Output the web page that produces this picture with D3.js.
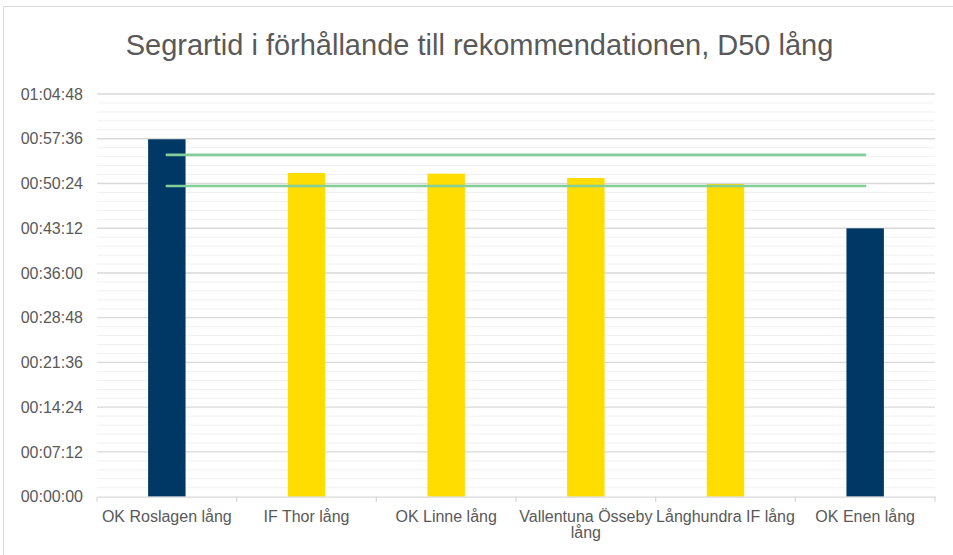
<!doctype html>
<html lang="sv">
<head>
	<meta charset="utf-8">
	<title>Segrartid D50 lång</title>
	<script src="https://d3js.org/d3.v7.min.js"></script>
	<style>
		body { margin: 0; background: #fff; }
		text { font-family: "Liberation Sans", Arial, sans-serif; fill: #595959; }
	</style>
</head>
<body>
	<script>
		// data
		var clubs = ["OK Roslagen lång", "IF Thor lång", "OK Linne lång", "Vallentuna Össeby lång", "Långhundra IF lång", "OK Enen lång"];
		var winTimes = ["00:57:31", "00:52:05", "00:51:59", "00:51:17", "00:50:19", "00:43:11"];
		var recLow = ["00:50:00", "00:50:00", "00:50:00", "00:50:00", "00:50:00", "00:50:00"];
		var recHigh = ["00:55:00", "00:55:00", "00:55:00", "00:55:00", "00:55:00", "00:55:00"];
		var tickLabels = ["00:00:00", "00:07:12", "00:14:24", "00:21:36", "00:28:48", "00:36:00", "00:43:12", "00:50:24", "00:57:36", "01:04:48"];

		var width = 953, height = 555;
		var plotLeft = 97, plotRight = 935, plotTop = 94, plotBottom = 496.7;

		function secs(s) {
			var p = s.split(":").map(Number);
			return p[0] * 3600 + p[1] * 60 + p[2];
		}

		var svg = d3.select("body").append("svg")
			.attr("width", width)
			.attr("height", height);

		// chart border (only top and left edges are inside the picture)
		svg.append("path")
			.attr("d", "M3.5," + height + "V6.5H" + width)
			.style("fill", "none")
			.style("stroke", "#d9d9d9");

		var ticks = tickLabels.map(secs);
		var yMax = d3.max(ticks);

		var y = d3.scaleLinear().domain([0, yMax]).range([plotBottom, plotTop]);
		var x = d3.scaleBand().domain(clubs).range([plotLeft, plotRight])
			.paddingInner(0.732).paddingOuter(0.366);

		// minor gridlines (5 per major step)
		var step = ticks[1] - ticks[0];
		var minor = [];
		for (var i = 0; i < ticks.length - 1; i++) {
			for (var k = 1; k < 5; k++) minor.push(ticks[i] + step * k / 5);
		}
		svg.append("g").selectAll("line")
			.data(minor).enter().append("line")
			.attr("x1", plotLeft).attr("x2", plotRight)
			.attr("y1", function(d) { return y(d); })
			.attr("y2", function(d) { return y(d); })
			.style("stroke", "#f0f0f0").style("stroke-width", 1);

		// major gridlines
		svg.append("g").selectAll("line")
			.data(ticks.slice(1)).enter().append("line")
			.attr("x1", plotLeft).attr("x2", plotRight)
			.attr("y1", function(d) { return y(d); })
			.attr("y2", function(d) { return y(d); })
			.style("stroke", "#d9d9d9").style("stroke-width", 1.3);

		// y tick labels
		svg.append("g").selectAll("text")
			.data(ticks).enter().append("text")
			.attr("x", 83)
			.attr("y", function(d) { return y(d); })
			.attr("dy", "0.35em")
			.attr("text-anchor", "end")
			.style("font-size", "16px")
			.text(function(d, i) { return tickLabels[i]; });

		// bars
		var lo = secs(recLow[0]), hi = secs(recHigh[0]);
		svg.append("g").selectAll("rect")
			.data(clubs).enter().append("rect")
			.attr("x", function(d) { return x(d); })
			.attr("width", x.bandwidth())
			.attr("y", function(d, i) { return y(secs(winTimes[i])); })
			.attr("height", function(d, i) { return plotBottom - y(secs(winTimes[i])); })
			.style("fill", function(d, i) {
				var v = secs(winTimes[i]);
				return (v < lo || v > hi) ? "#003865" : "#ffdd00";
			});

		// x axis
		var xAxis = d3.axisBottom(x).tickSize(0).tickFormat("");
		var gx = svg.append("g").attr("transform", "translate(0," + plotBottom + ")").call(xAxis);
		gx.select(".domain").style("stroke", "#d9d9d9").style("stroke-width", 1.3);
		var bounds = clubs.map(function(d) { return x(d) - x.step() * x.paddingInner() / 2; });
		bounds.push(plotRight);
		gx.selectAll(".tickmark").data(bounds).enter().append("line")
			.attr("class", "tickmark")
			.attr("x1", function(d) { return d; }).attr("x2", function(d) { return d; })
			.attr("y1", 0).attr("y2", 5)
			.style("stroke", "#d9d9d9").style("stroke-width", 1.3);

		// category labels, wrapped to the category width
		var labels = svg.append("g").selectAll("text")
			.data(clubs).enter().append("text")
			.attr("x", function(d) { return x(d) + x.bandwidth() / 2; })
			.attr("y", 522)
			.attr("text-anchor", "middle")
			.style("font-size", "16px");
		labels.each(function(d) {
			var t = d3.select(this), words = d.split(" "), line = [];
			var cx = x(d) + x.bandwidth() / 2;
			var span = t.append("tspan").attr("x", cx);
			words.forEach(function(w) {
				line.push(w);
				span.text(line.join(" "));
				if (span.node().getComputedTextLength() > x.step() && line.length > 1) {
					line.pop();
					span.text(line.join(" "));
					line = [w];
					span = t.append("tspan").attr("x", cx).attr("dy", "1.0em").text(w);
				}
			});
		});

		// recommendation lines
		var recLine = d3.line()
			.x(function(d, i) { return x(clubs[i]) + x.bandwidth() / 2; })
			.y(function(d) { return y(secs(d)); });
		[recHigh, recLow].forEach(function(s) {
			svg.append("path")
				.attr("d", recLine(s))
				.style("fill", "none")
				.style("stroke", "#82cf9a")
				.style("stroke-width", 2.6)
				.style("stroke-linecap", "round");
		});

		// title
		svg.append("text")
			.attr("x", 479.5)
			.attr("y", 55)
			.attr("text-anchor", "middle")
			.style("font-size", "29px")
			.text("Segrartid i förhållande till rekommendationen, D50 lång");
	</script>
</body>
</html>
